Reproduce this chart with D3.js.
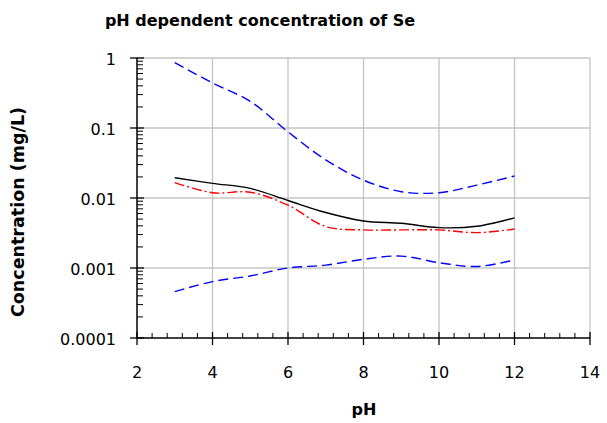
<!DOCTYPE html>
<html>
<head>
<meta charset="utf-8">
<script src="https://cdn.jsdelivr.net/npm/d3@7"></script>
<style>
  body { margin: 0; background: #fff; }
  text { font-family: "DejaVu Sans", Verdana, sans-serif; }
</style>
</head>
<body>
<script>
// data
var ph = [3, 4, 5, 6, 7, 8, 9, 10, 11, 12];
var upper = [0.86, 0.44, 0.24, 0.088, 0.035, 0.018, 0.0123, 0.0119, 0.0153, 0.0206];
var mean = [0.0195, 0.0162, 0.0137, 0.0092, 0.0062, 0.0047, 0.00435, 0.00377, 0.00394, 0.0052];
var median = [0.0166, 0.0119, 0.0121, 0.0079, 0.0039, 0.0035, 0.0035, 0.0035, 0.0032, 0.0036];
var lower = [0.00046, 0.00064, 0.00077, 0.0010, 0.0011, 0.00133, 0.00148, 0.00119, 0.00105, 0.0013];
var xTicks = [2, 4, 6, 8, 10, 12, 14];
var yTicks = [1, 0.1, 0.01, 0.001, 0.0001];
var yTickLabels = ["1", "0.1", "0.01", "0.001", "0.0001"];

var width = 607, height = 423;
var plotLeft = 137, plotRight = 590, plotTop = 58, plotBottom = 338;

var svg = d3.select("body").append("svg")
  .attr("width", width)
  .attr("height", height);

var x = d3.scaleLinear().domain([2, 14]).range([plotLeft, plotRight]);
var y = d3.scaleLog().domain([0.0001, 1]).range([plotBottom, plotTop]);

// grid
svg.append("g").selectAll("line")
  .data(yTicks.filter(function(d) { return d > 0.0001; }))
  .enter().append("line")
  .attr("x1", plotLeft).attr("x2", plotRight)
  .attr("y1", function(d) { return y(d); })
  .attr("y2", function(d) { return y(d); })
  .style("stroke", "#c4c4c4").style("stroke-width", 1.3);

svg.append("g").selectAll("line")
  .data(xTicks.filter(function(d) { return d > 2; }))
  .enter().append("line")
  .attr("y1", plotTop).attr("y2", plotBottom)
  .attr("x1", function(d) { return x(d); })
  .attr("x2", function(d) { return x(d); })
  .style("stroke", "#c4c4c4").style("stroke-width", 1.3);

// minor ticks
var yMinor = [];
[0.0001, 0.001, 0.01, 0.1].forEach(function(p) {
  for (var k = 2; k <= 9; k++) yMinor.push(p * k);
});
svg.append("g").selectAll("line")
  .data(yMinor)
  .enter().append("line")
  .attr("x1", plotLeft).attr("x2", plotLeft + 6)
  .attr("y1", function(d) { return y(d); })
  .attr("y2", function(d) { return y(d); })
  .style("stroke", "#000").style("stroke-width", 1);

var xMinor = d3.range(2, 14.01, 0.4).filter(function(d) {
  return Math.abs(d / 2 - Math.round(d / 2)) > 0.01;
});
svg.append("g").selectAll("line")
  .data(xMinor)
  .enter().append("line")
  .attr("y1", plotBottom).attr("y2", plotBottom - 5)
  .attr("x1", function(d) { return x(d); })
  .attr("x2", function(d) { return x(d); })
  .style("stroke", "#000").style("stroke-width", 1);

// major ticks
svg.append("g").selectAll("line")
  .data(yTicks)
  .enter().append("line")
  .attr("x1", plotLeft - 7).attr("x2", plotLeft + 7)
  .attr("y1", function(d) { return y(d); })
  .attr("y2", function(d) { return y(d); })
  .style("stroke", "#000").style("stroke-width", 1.3);

svg.append("g").selectAll("line")
  .data(xTicks)
  .enter().append("line")
  .attr("y1", plotBottom - 6).attr("y2", plotBottom + 7)
  .attr("x1", function(d) { return x(d); })
  .attr("x2", function(d) { return x(d); })
  .style("stroke", "#000").style("stroke-width", 1.3);

// axis lines
svg.append("line")
  .attr("x1", plotLeft).attr("x2", plotLeft).attr("y1", plotTop).attr("y2", plotBottom)
  .style("stroke", "#000").style("stroke-width", 1.5);
svg.append("line")
  .attr("x1", plotLeft).attr("x2", plotRight).attr("y1", plotBottom).attr("y2", plotBottom)
  .style("stroke", "#000").style("stroke-width", 1.5);

// tick labels
svg.append("g").selectAll("text")
  .data(yTicks)
  .enter().append("text")
  .attr("x", 116)
  .attr("y", function(d) { return y(d) + 7; })
  .attr("text-anchor", "end")
  .style("font-size", "16px")
  .text(function(d, i) { return yTickLabels[i]; });

svg.append("g").selectAll("text")
  .data(xTicks)
  .enter().append("text")
  .attr("x", function(d) { return x(d); })
  .attr("y", 378)
  .attr("text-anchor", "middle")
  .style("font-size", "16px")
  .text(function(d) { return d; });

// series
var line = d3.line()
  .x(function(d) { return x(d[0]); })
  .y(function(d) { return y(d[1]); })
  .curve(d3.curveCatmullRom.alpha(0.5));

var series = [
  { vals: upper, color: "#0000ff", dash: "10,5", w: 1.4 },
  { vals: lower, color: "#0000ff", dash: "10,5", w: 1.4 },
  { vals: median, color: "#ff0000", dash: "10,3,2,3", w: 1.4 },
  { vals: mean, color: "#000000", dash: null, w: 1.4 }
];

svg.append("g").selectAll("path")
  .data(series)
  .enter().append("path")
  .attr("d", function(s) { return line(ph.map(function(p, i) { return [p, s.vals[i]]; })); })
  .style("fill", "none")
  .style("stroke", function(s) { return s.color; })
  .style("stroke-width", function(s) { return s.w; })
  .style("stroke-dasharray", function(s) { return s.dash; });

// titles
svg.append("text")
  .attr("x", 260).attr("y", 26)
  .attr("text-anchor", "middle")
  .style("font-size", "16px").style("font-weight", "bold")
  .text("pH dependent concentration of Se");

svg.append("text")
  .attr("x", 364).attr("y", 415)
  .attr("text-anchor", "middle")
  .style("font-size", "16px").style("font-weight", "bold")
  .text("pH");

svg.append("text")
  .attr("transform", "translate(24,212) rotate(-90)")
  .attr("text-anchor", "middle")
  .style("font-size", "17.5px").style("font-weight", "bold")
  .text("Concentration (mg/L)");
</script>
</body>
</html>
